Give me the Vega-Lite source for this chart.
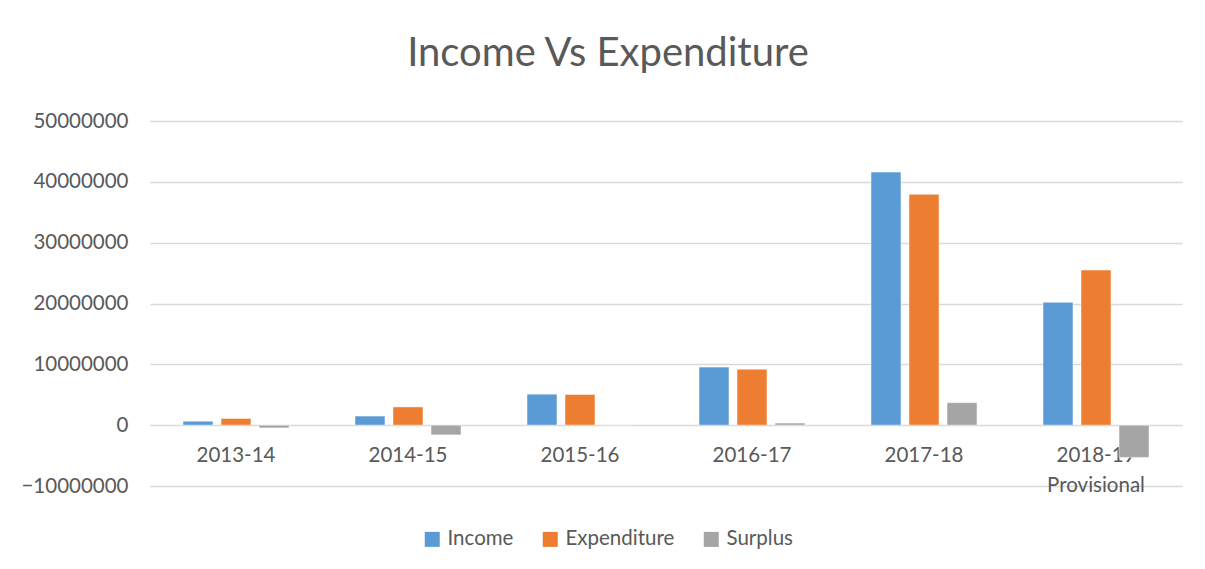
{
  "$schema": "https://vega.github.io/schema/vega-lite/v6.json",
  "autosize": {"type": "none"},
  "width": 1032,
  "height": 365,
  "padding": {"left": 150, "top": 121, "right": 23, "bottom": 83},
  "background": "white",
  "title": {
    "text": "Income Vs Expenditure",
    "font": "Lato",
    "fontSize": 40,
    "fontWeight": "normal",
    "color": "#595959",
    "anchor": "middle",
    "dx": -58,
    "offset": 37
  },
  "config": {
    "view": {"stroke": null},
    "font": "Lato"
  },
  "data": {
    "values": [
      {"year": "2013-14", "series": "Income", "amount": 650000},
      {"year": "2013-14", "series": "Expenditure", "amount": 1100000},
      {"year": "2013-14", "series": "Surplus", "amount": -450000},
      {"year": "2014-15", "series": "Income", "amount": 1500000},
      {"year": "2014-15", "series": "Expenditure", "amount": 3000000},
      {"year": "2014-15", "series": "Surplus", "amount": -1600000},
      {"year": "2015-16", "series": "Income", "amount": 5100000},
      {"year": "2015-16", "series": "Expenditure", "amount": 5050000},
      {"year": "2015-16", "series": "Surplus", "amount": 50000},
      {"year": "2016-17", "series": "Income", "amount": 9550000},
      {"year": "2016-17", "series": "Expenditure", "amount": 9200000},
      {"year": "2016-17", "series": "Surplus", "amount": 350000},
      {"year": "2017-18", "series": "Income", "amount": 41600000},
      {"year": "2017-18", "series": "Expenditure", "amount": 37950000},
      {"year": "2017-18", "series": "Surplus", "amount": 3700000},
      {"year": "2018-19 Provisional", "series": "Income", "amount": 20200000},
      {"year": "2018-19 Provisional", "series": "Expenditure", "amount": 25500000},
      {"year": "2018-19 Provisional", "series": "Surplus", "amount": -5300000}
    ]
  },
  "mark": {"type": "bar", "stroke": "white", "strokeWidth": 0.5},
  "encoding": {
    "x": {
      "field": "year",
      "type": "nominal",
      "sort": null,
      "scale": {"paddingInner": 0.337, "paddingOuter": 0.1685},
      "axis": {
        "title": null,
        "orient": "bottom",
        "offset": -60.8,
        "domain": false,
        "ticks": false,
        "labelAngle": 0,
        "labelFont": "Lato",
        "labelFontSize": 20.5,
        "labelColor": "#595959",
        "labelPadding": 20,
        "labelLineHeight": 30,
        "labelExpr": "split(datum.value, ' ')"
      }
    },
    "xOffset": {
      "field": "series",
      "type": "nominal",
      "sort": ["Income", "Expenditure", "Surplus"],
      "scale": {"paddingInner": 0.21, "paddingOuter": 0.105}
    },
    "y": {
      "field": "amount",
      "type": "quantitative",
      "scale": {"domain": [-10000000, 50000000], "nice": false, "zero": true},
      "axis": {
        "title": null,
        "values": [-10000000, 0, 10000000, 20000000, 30000000, 40000000, 50000000],
        "format": "d",
        "domain": false,
        "ticks": false,
        "grid": true,
        "gridColor": "#d9d9d9",
        "gridWidth": 1.3,
        "labelFont": "Lato",
        "labelFontSize": 20.5,
        "labelColor": "#595959",
        "labelPadding": 22
      }
    },
    "color": {
      "field": "series",
      "type": "nominal",
      "sort": ["Income", "Expenditure", "Surplus"],
      "scale": {
        "domain": ["Income", "Expenditure", "Surplus"],
        "range": ["#5B9BD5", "#ED7D31", "#A5A5A5"]
      },
      "legend": {
        "title": null,
        "orient": "none",
        "direction": "horizontal",
        "legendX": 272,
        "legendY": 408,
        "symbolType": "square",
        "symbolSize": 225,
        "symbolStrokeWidth": 0,
        "labelFont": "Lato",
        "labelFontSize": 20.5,
        "labelColor": "#595959",
        "labelOffset": 5,
        "columnPadding": 26
      }
    }
  }
}
